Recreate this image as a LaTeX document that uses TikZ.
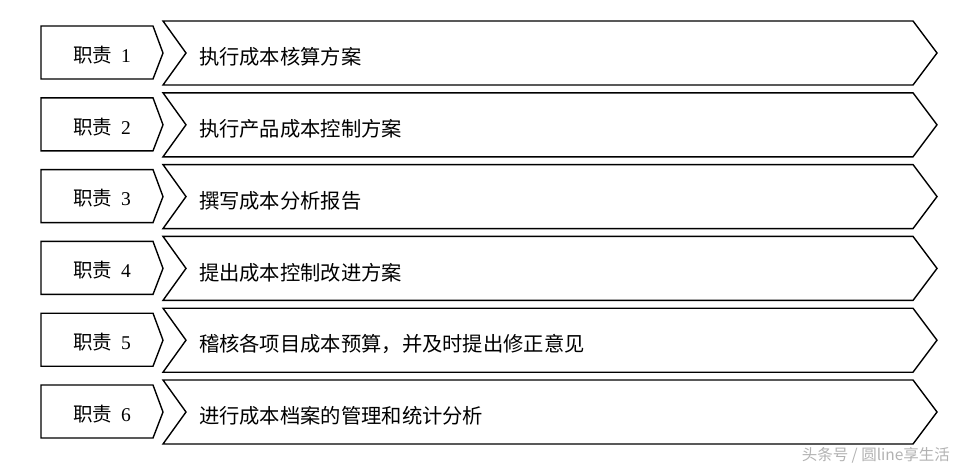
\documentclass[tikz,border=0pt]{standalone}
\usepackage{fontspec}
\setmainfont{Liberation Serif}
\newfontfamily\cjk{Noto Sans CJK SC}
\begin{document}
\begin{tikzpicture}[x=1pt,y=-1pt,line width=1.4pt,line join=miter,
	duty/.style={font=\fontsize{19.5}{22}\selectfont},
	task/.style={anchor=west,font=\cjk\fontsize{20.3}{24}\selectfont},
	mark text/.style={anchor=east,text=gray!60,font=\cjk\fontsize{15.5}{18}\selectfont}]
	\useasboundingbox (0,0) rectangle (965,469);
	
	% Zeilen: kleines Fünfeck links, großer Pfeil rechts
	\foreach \t [count=\n from 1] in {执行成本核算方案,执行产品成本控制方案,撰写成本分析报告,提出成本控制改进方案,稽核各项目成本预算，并及时提出修正意见,进行成本档案的管理和统计分析} {
		\pgfmathsetmacro{\y}{21+71.8*(\n-1)}
		\draw (41,\y+5) -- (153,\y+5) -- (163,\y+32) -- (153,\y+58) -- (41,\y+58) -- cycle;
		\draw (163,\y) -- (913,\y) -- (937,\y+32) -- (913,\y+64) -- (163,\y+64) -- (186,\y+32) -- cycle;
		\node[duty] (duty\n) at (102,\y+34) {{\cjk 职责}\hspace{9pt}\n};
		\node[task] (task\n) at (195,\y+36) {\t};
	}
	
	% Wasserzeichen
	\node[mark text] (mark) at (954,455) {头条号 / 圆line享生活};
	
\end{tikzpicture}
\end{document}
